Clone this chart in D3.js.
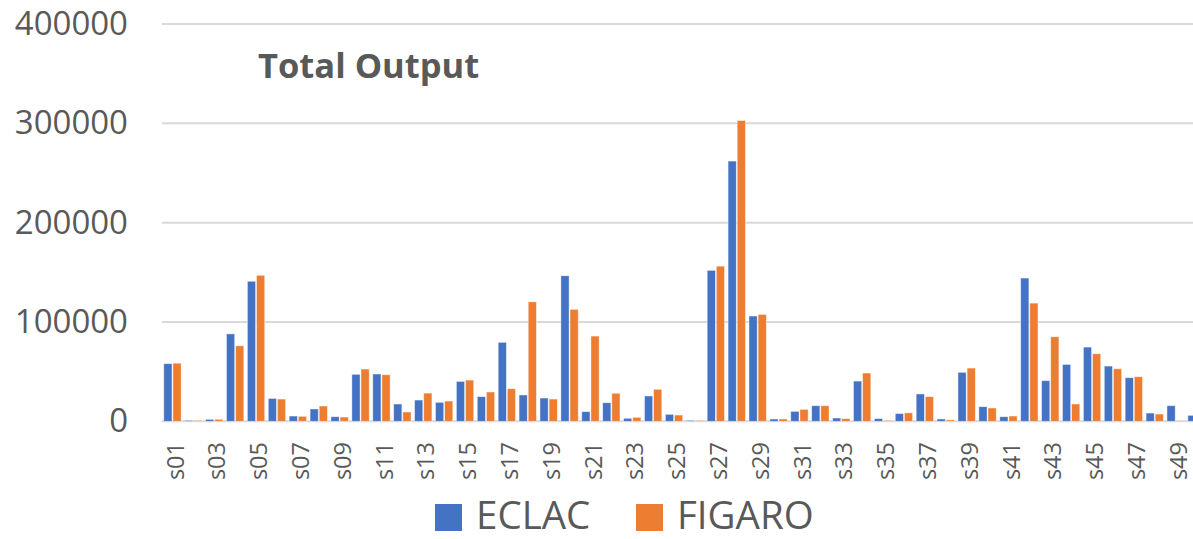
<!DOCTYPE html>
<html>
<head>
<meta charset="utf-8">
<script src="https://cdn.jsdelivr.net/npm/d3@7"></script>
<style>
  html, body { margin: 0; padding: 0; background: #fff; }
  svg { display: block; }
  text { font-family: "Open Sans", sans-serif; fill: #595959; }
</style>
</head>
<body>
<svg id="chart" width="1193" height="539"></svg>
<script>
// Sector codes s01..s50
const sectors = Array.from({length: 50}, (_, i) => "s" + String(i + 1).padStart(2, "0"));

const seriesNames = ["ECLAC", "FIGARO"];

const eclac = [
  58000, 1000, 2000, 88000, 141000, 23000, 5300, 12400, 4600, 47300,
  47600, 17400, 21400, 19100, 40200, 24800, 79500, 26500, 23400, 146500,
  9700, 18700, 3000, 25500, 7000, 1000, 152000, 262000, 106000, 2300,
  10000, 15700, 3300, 40500, 2700, 7800, 27500, 2300, 49300, 14700,
  4600, 144200, 40900, 57300, 74700, 55600, 43900, 8300, 15700, 6000
];

const figaro = [
  58500, 1000, 2000, 76000, 147000, 22400, 5000, 15400, 4300, 52600,
  46900, 9400, 28400, 20400, 41500, 29500, 32800, 120300, 22400, 112700,
  85800, 28200, 4000, 32200, 6300, 1000, 156200, 302800, 107600, 2300,
  12000, 15700, 2700, 48600, 1000, 8500, 24800, 1500, 53600, 13400,
  5300, 119000, 85100, 17400, 68000, 52900, 44900, 7300, 500, 5000
];

const yTicks = [0, 100000, 200000, 300000, 400000];
const colors = ["#4472C4", "#ED7D31"];
const title = "Total Output";

const FONT = '"Open Sans", sans-serif';
const svg = d3.select("#chart");
const W = 1193, H = 539;

// plot area; the category axis runs past the right edge and is clipped there
const plotLeft = 162, step = 20.9;
const plotTop = 24, plotBottom = 421.3;

const x0 = d3.scaleBand()
  .domain(sectors)
  .range([plotLeft, plotLeft + step * sectors.length])
  .paddingInner(0.17)
  .paddingOuter(0.085);

const x1 = d3.scaleBand()
  .domain(seriesNames)
  .range([0, x0.bandwidth()])
  .paddingInner(0.1);

const y = d3.scaleLinear().domain([0, 400000]).range([plotBottom, plotTop]);

// gridlines
svg.append("g")
  .selectAll("line")
  .data(yTicks)
  .join("line")
  .attr("x1", plotLeft)
  .attr("x2", W)
  .attr("y1", d => y(d))
  .attr("y2", d => y(d))
  .attr("stroke", "#D9D9D9")
  .attr("stroke-width", 2);

// y axis labels
const yAxis = d3.axisLeft(y).tickValues(yTicks).tickSize(0).tickPadding(0).tickFormat(d3.format("d"));
const gy = svg.append("g").attr("transform", `translate(128,0)`).call(yAxis);
gy.select(".domain").remove();
gy.selectAll("text")
  .attr("font-size", 33)
  .attr("fill", "#595959")
  .style("font-family", FONT);

// bars
const rows = sectors.map((s, i) => ({ s, vals: [eclac[i], figaro[i]] }));
svg.append("g")
  .selectAll("g")
  .data(rows)
  .join("g")
  .attr("transform", d => `translate(${x0(d.s)},0)`)
  .selectAll("rect")
  .data(d => d.vals.map((v, k) => ({ name: seriesNames[k], v, k })))
  .join("rect")
  .attr("x", d => x1(d.name))
  .attr("width", x1.bandwidth())
  .attr("y", d => y(d.v))
  .attr("height", d => y(0) - y(d.v))
  .attr("fill", d => colors[d.k])
  .attr("stroke", "#ffffff")
  .attr("stroke-opacity", 0.55)
  .attr("stroke-width", 0.8);

// category axis: every other label, rotated
const xAxis = d3.axisBottom(x0)
  .tickValues(sectors.filter((_, i) => i % 2 === 0))
  .tickSize(0).tickPadding(0);
const gx = svg.append("g").call(xAxis);
gx.select(".domain").remove();
gx.selectAll("text")
  .attr("font-size", 23.5)
  .attr("fill", "#595959")
  .style("font-family", FONT)
  .attr("text-anchor", "end")
  .attr("y", null)
  .attr("transform", "translate(3,442) rotate(-90)")
  .attr("dy", "0.35em");

// title
svg.append("text")
  .attr("x", 258)
  .attr("y", 78)
  .attr("font-size", 34.5)
  .attr("font-weight", "bold")
  .text(title);

// legend
const legendPos = [{ sq: 435, tx: 476 }, { sq: 636, tx: 677 }];
const lg = svg.append("g");
seriesNames.forEach((name, k) => {
  lg.append("rect")
    .attr("x", legendPos[k].sq).attr("y", 504)
    .attr("width", 27).attr("height", 27)
    .attr("fill", colors[k]);
  lg.append("text")
    .attr("x", legendPos[k].tx).attr("y", 529)
    .attr("font-size", 38.5)
    .text(name);
});
</script>
</body>
</html>
